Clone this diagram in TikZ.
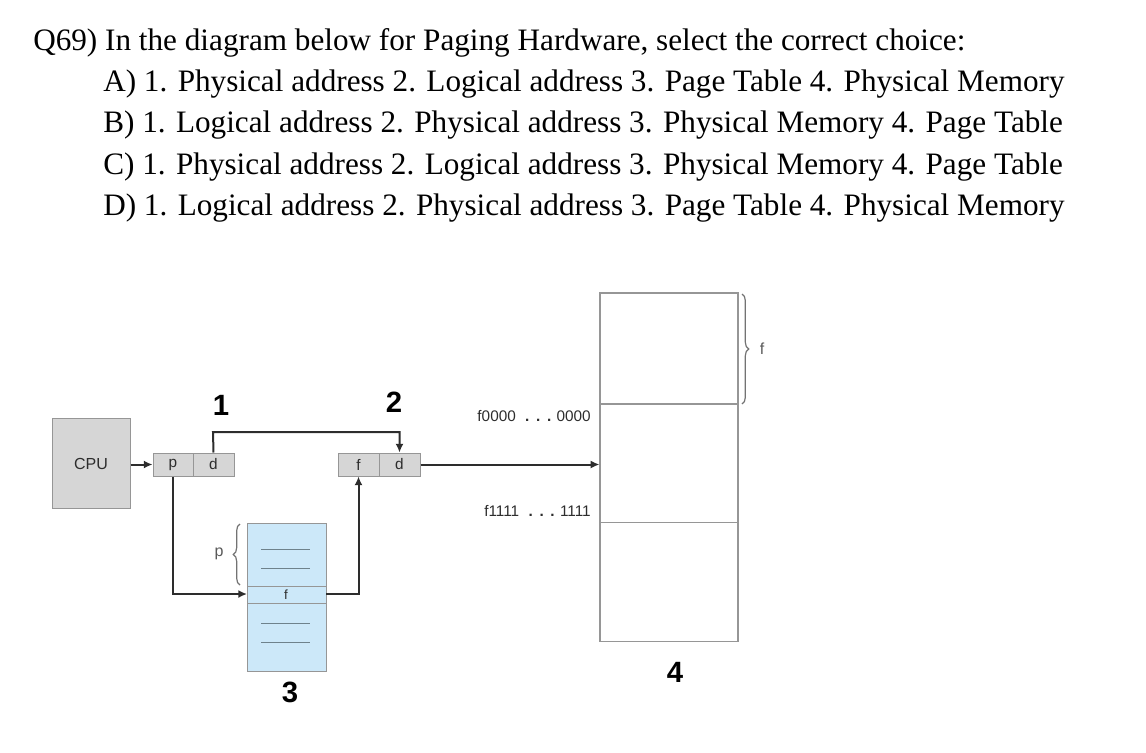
\documentclass[tikz,border=0pt]{standalone}
\usepackage{fontspec}
\setmainfont{Liberation Serif}
\newfontfamily\diag{Liberation Sans}
\usetikzlibrary{arrows.meta,decorations.pathreplacing}
\definecolor{boxgray}{RGB}{214,214,214}
\definecolor{edgegray}{RGB}{150,150,150}
\definecolor{linedark}{RGB}{45,45,45}
\definecolor{tblue}{RGB}{204,232,249}
\definecolor{tline}{RGB}{110,130,140}
\newcommand{\ddd}{\hspace{7pt}{\bfseries .\hspace{5pt}.\hspace{5pt}.}\hspace{4pt}}
\tikzset{
  qtext/.style={anchor=base west, inner sep=0, font=\fontsize{23.4}{28}\selectfont},
  cell/.style={draw=edgegray, fill=boxgray, line width=0.75pt, minimum width=30pt, minimum height=17.25pt, inner sep=0, font=\diag\fontsize{11.5}{13}\selectfont, text=linedark},
  conn/.style={draw=linedark, line width=1.5pt, -{Latex[length=6.5pt,width=6pt]}},
  big/.style={font=\diag\bfseries\fontsize{22}{26}\selectfont, inner sep=0},
  small/.style={font=\diag\fontsize{11.5}{13}\selectfont, inner sep=0, text=linedark},
  lbl/.style={font=\diag\fontsize{12}{14}\selectfont, inner sep=0, text=black!65},
  memrow/.style={draw=edgegray, line width=0.9pt, fill=white},
  brc/.style={draw=black!55, line width=0.9pt, decorate, decoration={brace, amplitude=5pt}},
}
\begin{document}
\begin{tikzpicture}[x=0.75pt,y=-0.75pt]
\useasboundingbox (0,0) rectangle (1146,753);
% question text
\node[qtext] (q) at (33,50) {Q69) In the diagram below for Paging Hardware, select the correct choice:};
\node[qtext] (oa) at (103,91) {A) 1. Physical address 2. Logical address 3. Page Table 4. Physical Memory};
\node[qtext] (ob) at (103,132) {B) 1. Logical address 2. Physical address 3. Physical Memory 4. Page Table};
\node[qtext] (oc) at (103,174) {C) 1. Physical address 2. Logical address 3. Physical Memory 4. Page Table};
\node[qtext] (od) at (103,215) {D) 1. Logical address 2. Physical address 3. Page Table 4. Physical Memory};

% CPU
\node[draw=edgegray, fill=boxgray, line width=0.75pt, minimum width=58.5pt, minimum height=67.5pt, inner sep=0, font=\diag\fontsize{12}{14}\selectfont, text=linedark] (cpu) at (91,463.5) {CPU};

% logical address
\node[cell] (p) at (173,464.5) {p};
\node[cell, minimum width=30.75pt] (d1) at (213.5,464.5) {d};
% physical address
\node[cell, minimum width=30.75pt] (f) at (358.5,464.5) {f};
\node[cell, minimum width=30.75pt] (d2) at (399.5,464.5) {d};

% memory
\node[memrow, minimum width=103.5pt, minimum height=83.25pt, inner sep=0] (m1) at (669,348.5) {};
\node[memrow, minimum width=103.5pt, minimum height=88.5pt, inner sep=0] (m2) at (669,463.5) {};
\node[memrow, minimum width=103.5pt, minimum height=89.25pt, inner sep=0] (m3) at (669,582) {};

% page table
\node[draw=edgegray, fill=tblue, line width=0.75pt, minimum width=59.25pt, minimum height=111pt, inner sep=0] (pt) at (286.5,597) {};
\draw[edgegray, line width=0.75pt] (247,586) -- (326,586) (247,603) -- (326,603);
\node[small, font=\diag\fontsize{10}{12}\selectfont] (ftxt) at (286,595) {f};
\draw[tline, line width=0.75pt] (261,549) -- (310,549) (261,568) -- (310,568) (261,623) -- (310,623) (261,642) -- (310,642);
\coordinate (ptin) at (247,594);
\coordinate (ptout) at (326,594);

% braces
\draw[brc] (240,585) -- (240,524);
\node[lbl] (plab) at (219,554) {p};
\draw[brc] (742,294) -- (742,404);
\node[lbl] (flab) at (762,349) {f};

% address labels
\node[small, anchor=east] (a0) at (591,416) {f0000\ddd0000};
\node[small, anchor=east] (a1) at (591,511) {f1111\ddd1111};

% connectors
\draw[conn] (cpu.east |- p.west) -- (p.west);
\draw[conn] (d1.north) -- (213,432) -| (d2.north);
\draw[conn] (d2.east) -- (m2.west |- d2.east);
\draw[conn] (p.south) |- (ptin);
\draw[conn] (ptout) -| (f.south);

% numbers
\node[big] (n1) at (221,405) {1};
\node[big] (n2) at (394,402) {2};
\node[big] (n3) at (290,692) {3};
\node[big] (n4) at (675,672) {4};
\end{tikzpicture}
\end{document}
